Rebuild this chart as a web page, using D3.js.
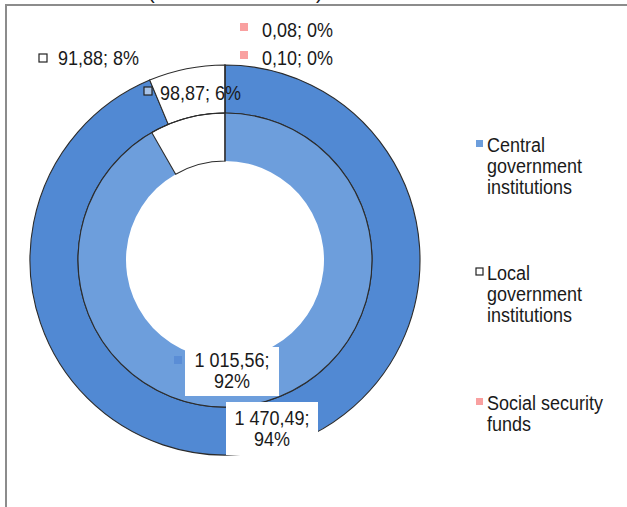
<!DOCTYPE html>
<html>
<head>
<meta charset="utf-8">
<script src="https://cdn.jsdelivr.net/npm/d3@7"></script>
<style>
  html, body { margin: 0; padding: 0; background: #fff; }
  svg { display: block; }
  text { font-family: "Liberation Sans", Arial, sans-serif; fill: #1a1a1a; }
</style>
</head>
<body>
<script>
// Sector categories (legend order = slice order, clockwise from 12 o'clock)
const categories = ["Central government institutions", "Local government institutions", "Social security funds"];
const legendLines = [["Central", "government", "institutions"], ["Local", "government", "institutions"], ["Social security", "funds"]];
// Inner ring and outer ring values
const innerValues = [1015.56, 91.88, 0.08];
const outerValues = [1470.49, 98.87, 0.10];

const W = 627, H = 507;
const cx = 225, cy = 260;
const rHole = 99, rMid = 147, rOuter = 195;

const innerColors = ["#6d9edc", "#ffffff", "#f9a0a0"];
const outerColors = ["#5189d3", "#ffffff", "#f9a0a0"];
const legendColors = ["#6d9edc", "#ffffff", "#f9a0a0"];

const locale = d3.formatLocale({ decimal: ",", thousands: "\u00a0", grouping: [3], currency: ["", ""] });
const fmt = locale.format(",.2f");

const svg = d3.select("body").append("svg").attr("width", W).attr("height", H);

// frame
svg.append("line").attr("x1", 6).attr("x2", 6).attr("y1", 5).attr("y2", H)
  .attr("stroke", "#8c8c8c").attr("stroke-width", 2);
svg.append("line").attr("x1", 5).attr("x2", W).attr("y1", 5).attr("y2", 5)
  .attr("stroke", "#8c8c8c").attr("stroke-width", 2);

// title remnants above the frame
svg.append("text").attr("x", 148).attr("y", -1).style("font-size", "20px").text("(");
svg.append("text").attr("x", 316).attr("y", -1).style("font-size", "20px").text(")");

const pie = d3.pie().sort(null).value(d => d);
const innerArcs = pie(innerValues);
const outerArcs = pie(outerValues);

const arcInner = d3.arc().innerRadius(rHole).outerRadius(rMid);
const arcOuter = d3.arc().innerRadius(rMid).outerRadius(rOuter);

const g = svg.append("g").attr("transform", `translate(${cx},${cy})`);

// outer ring
g.selectAll("path.outer").data(outerArcs).join("path")
  .attr("class", "outer")
  .attr("d", arcOuter)
  .attr("fill", (d, i) => outerColors[i])
  .attr("stroke", "#2b2b2b").attr("stroke-width", 1.1);

// inner ring: blue slice unstroked, others outlined
g.selectAll("path.inner").data(innerArcs).join("path")
  .attr("class", "inner")
  .attr("d", arcInner)
  .attr("fill", (d, i) => innerColors[i])
  .attr("stroke", (d, i) => i === 0 ? "none" : "#2b2b2b").attr("stroke-width", 1.1);

// ring boundary line
g.append("circle").attr("r", rMid).attr("fill", "none").attr("stroke", "#2b2b2b").attr("stroke-width", 1.1);

function pct(values, i) {
  const t = d3.sum(values);
  return Math.round(values[i] / t * 100) + "%";
}
function labelText(values, i) { return fmt(values[i]) + "; " + pct(values, i); }

function stretchedText(sel, x, y, str, anchor) {
  return sel.append("text")
    .attr("transform", `translate(${x},${y}) scale(1,1.1)`)
    .attr("text-anchor", anchor || "start")
    .style("font-size", "18px")
    .text(str);
}

function swatch(x, y, fill, outlined) {
  svg.append("rect").attr("x", x).attr("y", y).attr("width", 8).attr("height", 8)
    .attr("fill", fill)
    .attr("stroke", outlined ? "#222" : "none").attr("stroke-width", outlined ? 1.2 : 0);
}

// data labels
// Social security funds (inner, outer)
swatch(240, 23, innerColors[2], false);
stretchedText(svg, 262, 37, labelText(innerValues, 2));
swatch(240, 51, outerColors[2], false);
stretchedText(svg, 262, 65, labelText(outerValues, 2));

// Local government (inner, outer)
swatch(39, 54, "#ffffff", true);
stretchedText(svg, 58, 65, labelText(innerValues, 1));
swatch(144, 87, "#a7c3e8", true);
stretchedText(svg, 160, 100, labelText(outerValues, 1));

// Central government (inner, outer) in boxed two-line labels
svg.append("rect").attr("x", 185).attr("y", 347).attr("width", 94).attr("height", 49).attr("fill", "#fff");
swatch(174, 356, "#5a8dd6", false);
stretchedText(svg, 232, 367, fmt(innerValues[0]) + ";", "middle");
stretchedText(svg, 232, 388, pct(innerValues, 0), "middle");

svg.append("rect").attr("x", 226).attr("y", 402).attr("width", 92).attr("height", 53).attr("fill", "#fff");
stretchedText(svg, 272, 425, fmt(outerValues[0]) + ";", "middle");
stretchedText(svg, 272, 446, pct(outerValues, 0), "middle");

// legend
const legendTops = [152, 280, 410];
categories.forEach((c, i) => {
  const y0 = legendTops[i];
  svg.append("rect").attr("x", 476).attr("y", y0 - 12).attr("width", 7).attr("height", 7)
    .attr("fill", legendColors[i])
    .attr("stroke", i === 1 ? "#222" : "none").attr("stroke-width", 1.2);
  legendLines[i].forEach((ln, j) => {
    stretchedText(svg, 487, y0 + j * 21, ln);
  });
});
</script>
</body>
</html>
